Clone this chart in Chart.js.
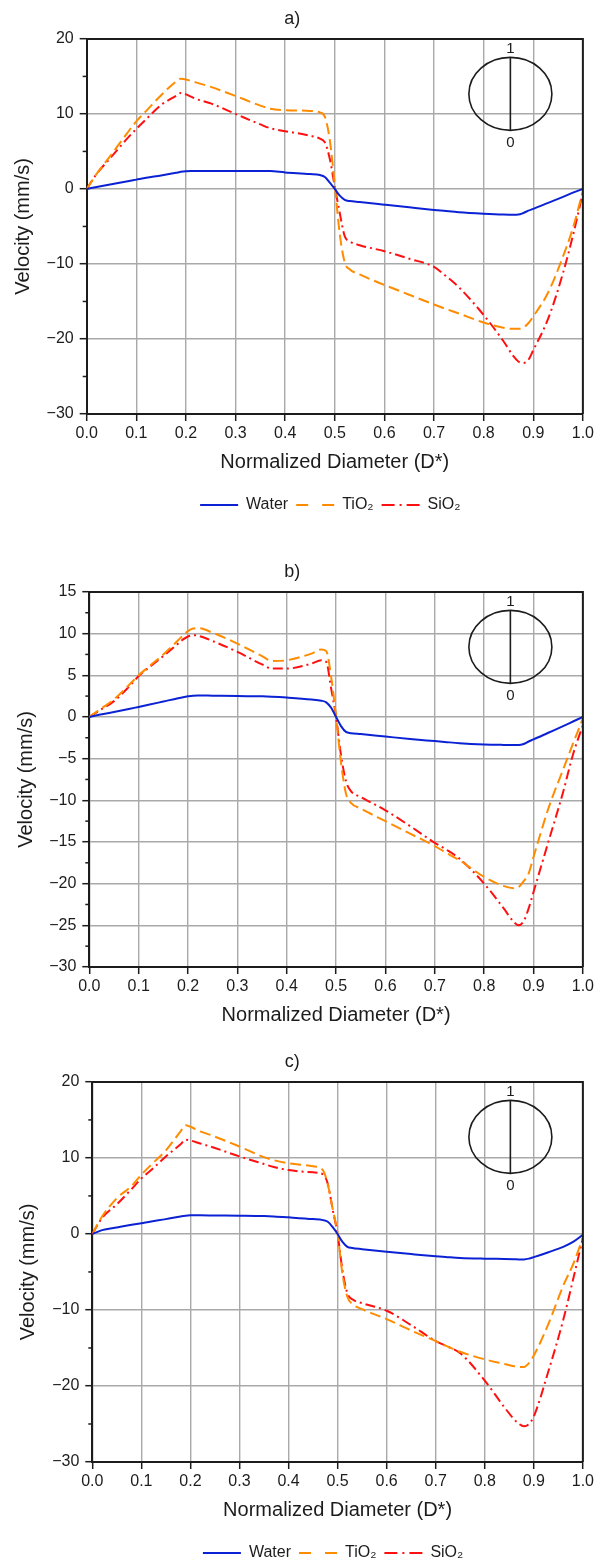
<!DOCTYPE html>
<html>
<head>
<meta charset="utf-8">
<script src="https://cdn.jsdelivr.net/npm/chart.js@4.4.1/dist/chart.umd.min.js"></script>
<style>
    html, body { margin: 0; padding: 0; background: #fff; overflow: hidden; }
    #page { position: relative; width: 597px; height: 1564px; }
    .panel { position: absolute; left: 0; width: 597px; }
</style>
</head>
<body>
<div id="page">
    <div class="panel" style="top:0;height:553px"><canvas id="chartA"></canvas></div>
    <div class="panel" style="top:553px;height:489px"><canvas id="chartB"></canvas></div>
    <div class="panel" style="top:1043px;height:528px"><canvas id="chartC"></canvas></div>
</div>
<script>
// ============================================
// Data
// ============================================

const diameter = [0, 0.02, 0.05, 0.08, 0.1, 0.12, 0.15, 0.18, 0.19, 0.2, 0.21, 0.22, 0.25, 0.3, 0.35, 0.37, 0.4, 0.45, 0.47, 0.48, 0.49, 0.5, 0.51, 0.52, 0.53, 0.55, 0.6, 0.65, 0.7, 0.72, 0.75, 0.8, 0.84, 0.86, 0.87, 0.88, 0.89, 0.9, 0.93, 0.96, 0.98, 1.0];

// panel a)
const waterA = [0, 0.25, 0.62, 1.0, 1.24, 1.48, 1.8, 2.15, 2.28, 2.35, 2.38, 2.39, 2.39, 2.4, 2.4, 2.38, 2.2, 1.98, 1.85, 1.6, 0.85, 0, -0.9, -1.45, -1.62, -1.75, -2.1, -2.45, -2.8, -2.92, -3.1, -3.3, -3.42, -3.45, -3.42, -3.2, -2.9, -2.65, -1.85, -1.05, -0.5, 0];
const tio2A = [0, 2.0, 4.6, 7.3, 9.0, 10.4, 12.5, 14.3, 14.7, 14.6, 14.4, 14.2, 13.6, 12.4, 11.1, 10.7, 10.5, 10.4, 10.2, 9.6, 6.5, 0.5, -6.0, -9.8, -10.7, -11.4, -12.8, -14.1, -15.4, -15.9, -16.6, -17.8, -18.5, -18.65, -18.65, -18.5, -17.9, -17.0, -13.8, -9.0, -5.2, -0.3];
const sio2A = [0, 2.0, 4.3, 6.6, 8.0, 9.3, 11.2, 12.4, 12.8, 12.6, 12.3, 12.0, 11.4, 10.0, 8.6, 8.1, 7.7, 7.1, 6.7, 6.2, 4.0, 0.3, -3.2, -6.3, -7.0, -7.5, -8.3, -9.3, -10.4, -11.4, -13.1, -16.8, -20.3, -22.3, -23.0, -23.2, -22.8, -21.5, -17.3, -11.2, -6.2, -0.5];

// panel b)
const waterB = [0, 0.25, 0.6, 0.95, 1.2, 1.45, 1.85, 2.25, 2.37, 2.47, 2.55, 2.58, 2.55, 2.5, 2.47, 2.43, 2.33, 2.1, 1.95, 1.75, 1.1, 0, -1.1, -1.8, -1.95, -2.05, -2.35, -2.65, -2.9, -3.0, -3.15, -3.3, -3.36, -3.38, -3.38, -3.25, -2.95, -2.7, -1.9, -1.1, -0.55, 0];
const tio2B = [0, 0.85, 2.1, 3.8, 5.0, 6.0, 7.5, 9.2, 9.8, 10.3, 10.6, 10.65, 10.1, 8.8, 7.3, 6.7, 6.8, 7.6, 8.1, 7.9, 4.8, 0, -5.5, -9.2, -10.3, -11.0, -12.5, -14.0, -15.5, -16.2, -17.2, -19.2, -20.3, -20.55, -20.4, -19.7, -18.8, -16.8, -11.0, -6.3, -3.2, -0.2];
const sio2B = [0, 0.75, 1.9, 3.6, 4.9, 5.9, 7.3, 8.8, 9.3, 9.65, 9.8, 9.75, 9.1, 7.8, 6.3, 5.8, 5.8, 6.4, 6.8, 6.6, 3.4, 0, -4.6, -7.7, -8.9, -9.6, -11.2, -13.1, -15.1, -15.8, -17.0, -20.0, -23.0, -24.6, -25.0, -24.5, -23.0, -21.0, -15.0, -9.0, -4.5, -1.0];

// panel c)
const waterC = [0, 0.5, 0.85, 1.2, 1.42, 1.65, 1.95, 2.3, 2.4, 2.45, 2.45, 2.45, 2.43, 2.4, 2.35, 2.3, 2.18, 1.95, 1.82, 1.6, 0.9, 0, -1.05, -1.7, -1.85, -2.0, -2.35, -2.65, -2.93, -3.02, -3.15, -3.25, -3.3, -3.33, -3.35, -3.35, -3.25, -3.05, -2.4, -1.7, -1.05, -0.1];
const tio2C = [0, 2.3, 4.7, 6.3, 7.8, 9.1, 11.0, 13.5, 14.3, 14.1, 13.8, 13.5, 12.8, 11.5, 10.1, 9.7, 9.3, 8.9, 8.4, 6.5, 3.3, 0, -5.3, -8.3, -9.2, -9.9, -11.2, -12.7, -14.1, -14.7, -15.5, -16.5, -17.1, -17.4, -17.5, -17.5, -17.0, -16.0, -11.8, -6.8, -4.0, -0.5];
const sio2C = [0, 2.1, 3.9, 5.9, 7.3, 8.4, 10.2, 11.8, 12.4, 12.3, 12.1, 11.9, 11.3, 10.2, 9.2, 8.8, 8.4, 8.1, 7.85, 6.6, 3.2, 0, -4.8, -7.8, -8.6, -9.1, -10.1, -12.0, -14.1, -14.7, -15.7, -19.3, -22.8, -24.4, -25.0, -25.3, -25.0, -24.0, -18.0, -11.3, -6.0, -0.5];

// ============================================
// Styling
// ============================================

const FONT = '"Liberation Sans", Arial, sans-serif';
const INK = '#1c1c1c';
const GRID = '#a9a9a9';

// the legend swatches use a coarser dash than the curves
const legendDash = [[], [12, 14], [13, 5, 2, 5]];

Chart.defaults.font.family = FONT;
Chart.defaults.color = INK;

// top/right frame, short minor ticks on y, and the little pipe cross-section
const frameAndInset = {
    id: 'frameAndInset',
    beforeDraw(chart) {
        // legend sits a bit left of the plot centre in the original
        if (chart.legend && chart.options.plugins.legend.display) {
            chart.legend.left = chart.chartArea.left - 9;
            chart.legend.right = chart.chartArea.right;
        }
    },
    afterDraw(chart, args, opts) {
        const { ctx, chartArea: a, scales: { y } } = chart;
        ctx.save();
        ctx.strokeStyle = INK;

        ctx.lineWidth = 1.5;
        for (let v = y.min + opts.minorStep; v < y.max; v += 2 * opts.minorStep) {
            const py = y.getPixelForValue(v);
            ctx.beginPath();
            ctx.moveTo(a.left - 4, py);
            ctx.lineTo(a.left, py);
            ctx.stroke();
        }

        ctx.lineWidth = 2;
        ctx.beginPath();
        ctx.moveTo(a.left, a.top);
        ctx.lineTo(a.right, a.top);
        ctx.lineTo(a.right, a.bottom);
        ctx.stroke();

        const cx = a.right - 72.5;
        const cy = a.top + 55;
        const rx = 41.5, ry = 36.5;
        ctx.lineWidth = 1.6;
        ctx.beginPath();
        ctx.ellipse(cx, cy, rx, ry, 0, 0, Math.PI * 2);
        ctx.stroke();
        ctx.beginPath();
        ctx.moveTo(cx, cy - ry);
        ctx.lineTo(cx, cy + ry);
        ctx.stroke();

        ctx.fillStyle = INK;
        ctx.font = '15px ' + FONT;
        ctx.textAlign = 'center';
        ctx.textBaseline = 'middle';
        ctx.fillText('1', cx, cy - ry - 9);
        ctx.fillText('0', cx, cy + ry + 12);
        ctx.restore();
    }
};

function minusLabel(v) {
    return v < 0 ? '\u2212' + Math.abs(v) : String(v);
}

// point-style legend entries lose the dataset dash, so put it back
function lineLegendLabels(chart) {
    const items = Chart.defaults.plugins.legend.labels.generateLabels(chart);
    items.forEach(item => {
        const ds = chart.data.datasets[item.datasetIndex];
        item.lineDash = legendDash[item.datasetIndex];
        item.lineWidth = ds.borderWidth;
        item.strokeStyle = ds.borderColor;
    });
    return items;
}

function series(label, values, color, dash) {
    return {
        label: label,
        data: diameter.map((d, i) => ({ x: d, y: values[i] })),
        borderColor: color,
        backgroundColor: color,
        borderWidth: 2,
        borderDash: dash,
        pointRadius: 0,
        fill: false,
        cubicInterpolationMode: 'monotone'
    };
}

// ============================================
// Chart builder
// ============================================

function buildPanel(canvasId, cfg) {
    return new Chart(document.getElementById(canvasId), {
        type: 'line',
        data: {
            datasets: [
                series('Water', cfg.water, '#0b22d4', []),
                series('TiO\u2082', cfg.tio2, '#ff8c00', [11, 5]),
                series('SiO\u2082', cfg.sio2, '#ff1010', [10, 4, 2, 4])
            ]
        },
        options: {
            animation: false,
            responsive: true,
            maintainAspectRatio: false,
            layout: { padding: { left: 0, right: 12.5, top: 0, bottom: cfg.padBottom } },
            plugins: {
                legend: {
                    display: cfg.legend,
                    position: 'bottom',
                    labels: {
                        usePointStyle: true,
                        pointStyle: 'line',
                        pointStyleWidth: 38,
                        padding: 8,
                        font: { size: 16 },
                        color: INK,
                        generateLabels: lineLegendLabels
                    }
                },
                title: {
                    display: true,
                    text: cfg.title,
                    font: { size: 18, weight: 'normal' },
                    color: INK,
                    padding: { top: 8.1, bottom: 9.2 }
                },
                tooltip: { enabled: false },
                frameAndInset: { minorStep: cfg.yStep / 2 }
            },
            scales: {
                x: {
                    type: 'linear',
                    min: 0,
                    max: 1,
                    ticks: {
                        stepSize: 0.1,
                        autoSkip: false,
                        maxRotation: 0,
                        padding: 3,
                        font: { size: 16 },
                        color: INK,
                        callback: v => v.toFixed(1)
                    },
                    grid: { color: GRID, lineWidth: 1.4, tickLength: 7, tickColor: INK, tickWidth: 1.5 },
                    border: { color: INK, width: 2 },
                    title: {
                        display: true,
                        text: 'Normalized Diameter (D*)',
                        font: { size: 20 },
                        color: INK,
                        padding: { top: 0, bottom: 14.3 }
                    },
                    afterFit: s => { s.height = 75; }
                },
                y: {
                    min: cfg.yMin,
                    max: cfg.yMax,
                    ticks: {
                        stepSize: cfg.yStep,
                        padding: 6,
                        font: { size: 16 },
                        color: INK,
                        callback: minusLabel
                    },
                    grid: { color: GRID, lineWidth: 1.4, tickLength: 7, tickColor: INK, tickWidth: 1.5 },
                    border: { color: INK, width: 2 },
                    title: {
                        display: true,
                        text: 'Velocity (mm/s)',
                        font: { size: 20 },
                        color: INK,
                        padding: { top: cfg.yTitlePad, bottom: 0 }
                    },
                    afterFit: s => { s.width = cfg.yWidth; }
                }
            }
        },
        plugins: [frameAndInset]
    });
}

buildPanel('chartA', {
    title: 'a)', water: waterA, tio2: tio2A, sio2: sio2A,
    yMin: -30, yMax: 20, yStep: 10, yWidth: 86.7, yTitlePad: 11.3,
    legend: true, padBottom: 30
});

buildPanel('chartB', {
    title: 'b)', water: waterB, tio2: tio2B, sio2: sio2B,
    yMin: -30, yMax: 15, yStep: 5, yWidth: 89.3, yTitlePad: 14,
    legend: false, padBottom: 0
});

buildPanel('chartC', {
    title: 'c)', water: waterC, tio2: tio2C, sio2: sio2C,
    yMin: -30, yMax: 20, yStep: 10, yWidth: 92.3, yTitlePad: 16.5,
    legend: true, padBottom: 0
});
</script>
</body>
</html>
